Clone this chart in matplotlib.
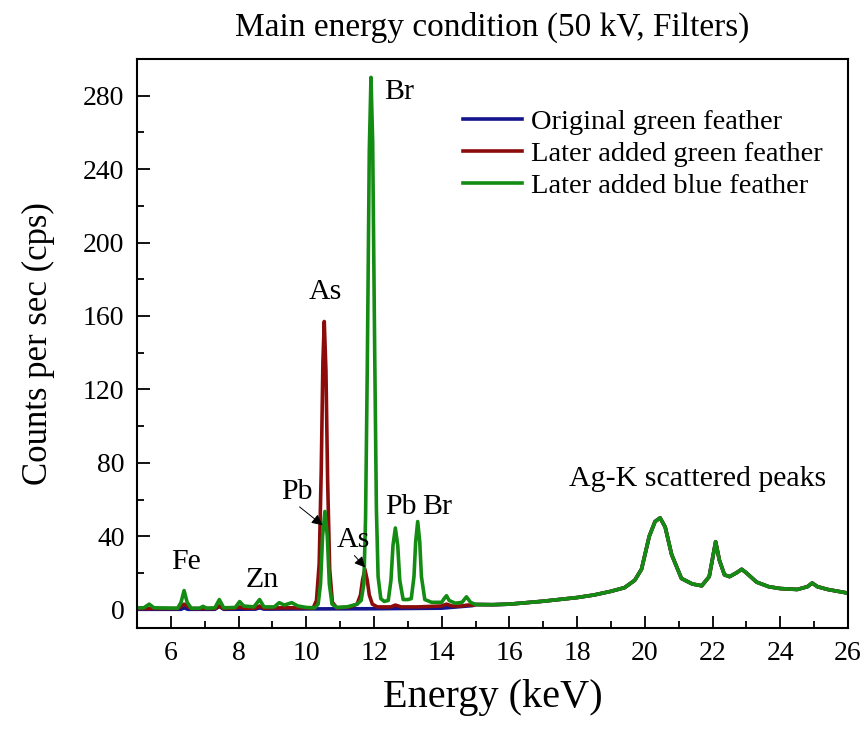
import numpy as np
import matplotlib
matplotlib.use("Agg")
import matplotlib.pyplot as plt
from matplotlib.ticker import MultipleLocator

plt.rcParams['font.family'] = ['Liberation Serif', 'DejaVu Serif']

# ---- data (energy keV, counts per sec) ----
# shared scatter background above 15 keV (all three spectra overlap there)
bg_e = [15.0, 15.5, 16.0, 16.5, 17.0, 17.5, 18.0, 18.5, 19.0, 19.4, 19.7, 19.9,
        20.13, 20.3, 20.45, 20.6, 20.79, 21.08, 21.4, 21.68, 21.9, 22.0, 22.09,
        22.2, 22.35, 22.5, 22.7, 22.86, 23.0, 23.3, 23.66, 24.0, 24.5, 24.8,
        24.94, 25.1, 25.4, 25.7, 26.0]
bg_c = [2.8, 2.7, 3.0, 3.8, 4.6, 5.6, 6.6, 8.0, 10.0, 12.0, 16.0, 22.0,
        40.0, 48.0, 50.0, 45.0, 30.0, 17.0, 14.0, 13.0, 18.0, 28.0, 37.0,
        27.0, 19.0, 18.0, 20.0, 22.0, 20.0, 15.0, 12.5, 11.5, 11.0, 12.5,
        14.5, 12.5, 11.0, 10.0, 9.0]

green_e = [5.0, 5.2, 5.36, 5.5, 6.2, 6.3, 6.39, 6.48, 6.6, 6.85, 6.95, 7.05, 7.3,
           7.43, 7.56, 7.9, 8.03, 8.15, 8.45, 8.62, 8.75, 9.05, 9.2, 9.35, 9.57,
           9.75, 10.0, 10.25, 10.35, 10.42, 10.48, 10.55, 10.62, 10.68, 10.76,
           10.9, 11.2, 11.5, 11.62, 11.7, 11.75, 11.8, 11.86, 11.91, 11.96,
           12.02, 12.07, 12.12, 12.2, 12.3, 12.42, 12.5, 12.56, 12.63, 12.7,
           12.76, 12.86, 13.0, 13.1, 13.18, 13.23, 13.29, 13.35, 13.4, 13.5,
           13.7, 14.0, 14.07, 14.14, 14.22, 14.4, 14.6, 14.73, 14.85]
green_c = [1.0, 1.0, 3.0, 1.0, 0.8, 4.0, 10.4, 4.0, 0.8, 0.8, 1.8, 0.8, 1.0,
           5.5, 1.0, 1.2, 4.4, 2.0, 1.5, 5.5, 1.5, 1.5, 3.8, 2.5, 3.8,
           2.0, 1.2, 1.0, 3.0, 14.0, 40.0, 53.5, 40.0, 14.0, 3.0,
           1.2, 1.5, 3.0, 5.0, 14.0, 50.0, 130.0, 250.0, 290.0, 255.0,
           140.0, 55.0, 18.0, 6.0, 4.5, 5.0, 16.0, 35.0, 44.5, 35.0,
           16.0, 5.5, 5.5, 6.0, 18.0, 37.0, 48.0, 37.0, 18.0, 5.5,
           4.0, 4.0, 6.0, 7.6, 5.0, 3.5, 4.0, 7.0, 4.0]

red_e = [5.0, 6.2, 6.39, 6.6, 7.3, 7.43, 7.56, 7.9, 8.03, 8.15, 8.5, 8.62,
         8.75, 9.2, 9.6, 10.0, 10.2, 10.3, 10.38, 10.44, 10.49, 10.53, 10.58,
         10.63, 10.69, 10.77, 10.9, 11.3, 11.5, 11.6, 11.66, 11.73, 11.8,
         11.86, 11.95, 12.1, 12.5, 12.63, 12.8, 13.3, 14.0, 14.14, 14.3,
         14.6, 14.75, 14.9]
red_c = [0.6, 0.6, 3.0, 0.6, 0.6, 2.0, 0.6, 0.8, 1.5, 0.8, 0.8, 2.0,
         0.8, 1.0, 1.0, 1.0, 0.8, 5.0, 25.0, 75.0, 135.0, 157.0, 130.0,
         70.0, 22.0, 4.0, 1.0, 1.5, 3.0, 8.0, 16.0, 22.0, 16.0,
         8.0, 3.0, 1.5, 1.5, 2.5, 1.5, 1.5, 2.0, 3.0, 2.0,
         2.0, 2.5, 2.4]

blue_e = [5.0, 6.3, 6.39, 6.5, 7.3, 7.43, 7.56, 8.5, 8.62, 8.75, 10.0, 12.0,
          14.0, 14.9]
blue_c = [0.2, 0.2, 1.0, 0.2, 0.2, 1.8, 0.2, 0.3, 1.0, 0.3, 0.4, 0.5,
          0.8, 2.2]

series = ["Original green feather", "Later added green feather",
          "Later added blue feather"]
colors = ["#14148c", "#8c0c0c", "#148c14"]


def spectrum(e, c):
    return np.concatenate([e, bg_e]), np.concatenate([c, bg_c])


fig = plt.figure(figsize=(8.64, 7.34), dpi=100)
ax = fig.add_axes([0.1586, 0.1444, 0.8229, 0.7752])

for (e, c), lab, col in zip([(blue_e, blue_c), (red_e, red_c), (green_e, green_c)],
                            series, colors):
    x, y = spectrum(e, c)
    ax.plot(x, y, color=col, lw=2.6, label=lab, solid_joinstyle='round')

ax.set_xlim(5, 26)
ax.set_ylim(-10, 300)
ax.xaxis.set_major_locator(MultipleLocator(2))
ax.xaxis.set_minor_locator(MultipleLocator(1))
ax.yaxis.set_major_locator(MultipleLocator(40))
ax.yaxis.set_minor_locator(MultipleLocator(20))
ax.set_yticks(np.arange(0, 281, 40))
ax.tick_params(which='both', direction='in', top=False, right=False, width=1.3)
ax.tick_params(which='major', length=9, labelsize=20, pad=9)
ax.tick_params(which='minor', length=5)
for s in ax.spines.values():
    s.set_linewidth(1.5)

ax.set_xlabel("Energy (keV)", fontsize=29, labelpad=10)
ax.set_ylabel("Counts per sec (cps)", fontsize=25, labelpad=20)
ax.set_title("Main energy condition (50 kV, Filters)", fontsize=24, pad=17)

leg = ax.legend(loc='upper left', bbox_to_anchor=(0.458, 0.912), frameon=False,
                fontsize=20.5, handlelength=2.1, handletextpad=0.3,
                labelspacing=0.22, borderpad=0, borderaxespad=0)

lab_fs = 21.5
ax.text(12.75, 282, "Br", fontsize=lab_fs, ha='center', va='center')
ax.text(10.55, 173, "As", fontsize=lab_fs, ha='center', va='center')
ax.text(6.45, 26, "Fe", fontsize=lab_fs, ha='center', va='center')
ax.text(8.7, 16, "Zn", fontsize=lab_fs, ha='center', va='center')
ax.text(12.79, 56, "Pb", fontsize=lab_fs, ha='center', va='center')
ax.text(13.87, 56, "Br", fontsize=lab_fs, ha='center', va='center')
ax.text(21.55, 71, "Ag-K scattered peaks", fontsize=lab_fs, ha='center', va='center')

# labels with pointer arrows
ax.text(9.73, 64, "Pb", fontsize=lab_fs, ha='center', va='center')
ax.text(11.4, 38, "As", fontsize=lab_fs, ha='center', va='center')
arrow = dict(arrowstyle='-|>', color='black', lw=0.7, mutation_scale=16,
             shrinkA=0, shrinkB=0)
ax.annotate("", xy=(10.48, 46), xytext=(9.8, 56), arrowprops=arrow)
ax.annotate("", xy=(11.74, 23), xytext=(11.42, 29.5), arrowprops=arrow)

fig.savefig("out.png", dpi=100)
